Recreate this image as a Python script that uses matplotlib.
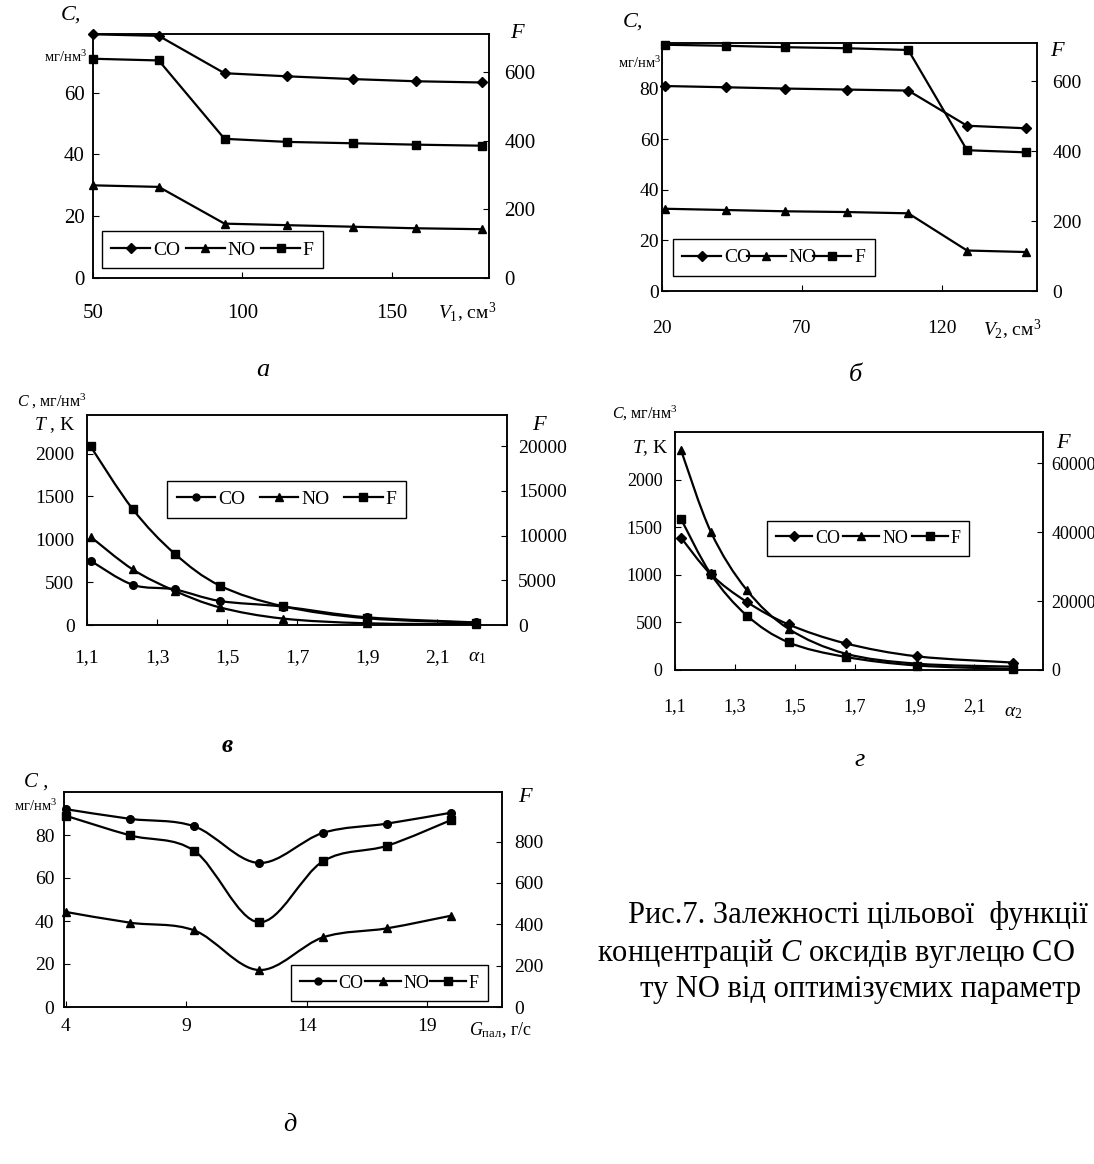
import numpy as np
import matplotlib
matplotlib.use('Agg')
import matplotlib.pyplot as plt
from matplotlib.path import Path
from matplotlib.patches import PathPatch
from matplotlib.lines import Line2D

plt.rcParams['font.family'] = ['Liberation Serif', 'DejaVu Serif']
plt.rcParams['mathtext.fontset'] = 'custom'
plt.rcParams['mathtext.rm'] = 'Liberation Serif'
plt.rcParams['mathtext.it'] = 'Liberation Serif:italic'
plt.rcParams['mathtext.bf'] = 'Liberation Serif:bold'

# ---------------- data ----------------
series_names = ['CO', 'NO', 'F']

# panel a
a_x = [50, 72, 94, 115, 137, 158, 180]
a_co = [78.9, 78.4, 66.3, 65.3, 64.4, 63.7, 63.3]
a_no = [30.0, 29.5, 17.6, 17.1, 16.6, 16.1, 15.8]
a_f = [638, 633, 405, 396, 392, 388, 385]
a_xticks = [50, 100, 150]
a_yticks = [0, 20, 40, 60]
a_rticks = [0, 200, 400, 600]

# panel b
b_x = [21, 43, 64, 86, 108, 129, 150]
b_co = [81, 80.5, 80, 79.6, 79.2, 65.3, 64.3]
b_no = [32.5, 32, 31.5, 31.2, 30.7, 16, 15.4]
b_f = [705, 702, 698, 695, 690, 403, 397]
b_xticks = [20, 70, 120]
b_yticks = [0, 20, 40, 60, 80]
b_rticks = [0, 200, 400, 600]

# panel c (alpha1)
c_x = [1.11, 1.23, 1.35, 1.48, 1.66, 1.9, 2.21]
c_co = [750, 470, 415, 280, 215, 90, 30]
c_no = [1030, 650, 400, 205, 75, 20, 10]
c_f = [20000, 13000, 8000, 4400, 2100, 750, 250]
c_xticks = [1.1, 1.3, 1.5, 1.7, 1.9, 2.1]
c_xlabels = ['1,1', '1,3', '1,5', '1,7', '1,9', '2,1']
c_yticks = [0, 500, 1000, 1500, 2000]
c_rticks = [0, 5000, 10000, 15000, 20000]

# panel d (alpha2)
d_x = [1.12, 1.22, 1.34, 1.48, 1.67, 1.91, 2.23]
d_co = [1390, 1005, 715, 478, 280, 143, 78]
d_no = [2310, 1450, 840, 432, 172, 66, 35]
d_f = [43800, 27800, 15800, 8000, 3800, 1300, 300]
d_xticks = [1.1, 1.3, 1.5, 1.7, 1.9, 2.1]
d_xlabels = ['1,1', '1,3', '1,5', '1,7', '1,9', '2,1']
d_yticks = [0, 500, 1000, 1500, 2000]
d_rticks = [0, 20000, 40000, 60000]

# panel e (G)
e_x = [4, 6.67, 9.33, 12, 14.67, 17.33, 20]
e_co = [92, 87.5, 84, 67, 81, 85.3, 90.4]
e_no = [44.2, 39.2, 35.6, 17.2, 32.4, 36.6, 42.5]
e_f = [925, 830, 755, 410, 705, 780, 905]
e_xticks = [4, 9, 14, 19]
e_yticks = [0, 20, 40, 60, 80]
e_rticks = [0, 200, 400, 600, 800]

# ---------------- figure ----------------
W, H = 1094, 1164
fig = plt.figure(figsize=(W / 100, H / 100), dpi=100)


def px_rect(x0, y0, x1, y1):
    return [x0 / W, 1 - y1 / H, (x1 - x0) / W, (y1 - y0) / H]


def ftext(x, y, s, **kw):
    kw.setdefault('ha', 'center')
    kw.setdefault('va', 'center')
    fig.text(x / W, 1 - y / H, s, **kw)


def smooth_path(x, y):
    x = np.asarray(x, float)
    y = np.asarray(y, float)
    n = len(x)
    verts = [(x[0], y[0])]
    codes = [Path.MOVETO]
    for i in range(n - 1):
        p0 = np.array([x[max(i - 1, 0)], y[max(i - 1, 0)]])
        p1 = np.array([x[i], y[i]])
        p2 = np.array([x[i + 1], y[i + 1]])
        p3 = np.array([x[min(i + 2, n - 1)], y[min(i + 2, n - 1)]])
        c1 = p1 + (p2 - p0) / 6.0
        c2 = p2 - (p3 - p1) / 6.0
        verts += [tuple(c1), tuple(c2), tuple(p2)]
        codes += [Path.CURVE4] * 3
    return Path(verts, codes)


LW = 1.6


def draw_series(ax, x, y, marker, ms, smooth):
    if smooth:
        ax.add_patch(PathPatch(smooth_path(x, y), fill=False, lw=LW,
                               edgecolor='black', clip_on=True))
        ax.plot(x, y, ls='none', marker=marker, ms=ms, color='black', clip_on=False)
    else:
        ax.plot(x, y, ls='-', lw=LW, marker=marker, ms=ms, color='black', clip_on=False)


def panel(rect, x, co, no, f, xlim, yl, yr, xticks, xlabels, yticks, rticks,
          co_marker, smooth, leg, fs, xpad, lpad, rpad, legfs):
    ax = fig.add_axes(rect)
    ax2 = ax.twinx()
    ax.set_zorder(ax2.get_zorder() - 1)
    ax.patch.set_visible(False)
    draw_series(ax, x, co, co_marker, 5.5 if co_marker == 'o' else 5, smooth)
    draw_series(ax, x, no, '^', 6, smooth)
    draw_series(ax2, x, f, 's', 6, smooth)
    ax.set_xlim(*xlim)
    ax.set_ylim(*yl)
    ax2.set_ylim(*yr)
    ax.set_xticks(xticks)
    ax.set_xticklabels(xlabels, fontsize=fs)
    ax.set_yticks(yticks)
    ax.set_yticklabels([str(v) for v in yticks], fontsize=fs)
    ax2.set_yticks(rticks)
    ax2.set_yticklabels([str(v) for v in rticks], fontsize=fs)
    ax.tick_params(axis='x', direction='in', length=4, pad=xpad, top=False)
    ax.tick_params(axis='y', direction='in', length=4, pad=lpad)
    ax2.tick_params(axis='y', direction='in', length=4, pad=rpad)
    for a in (ax, ax2):
        for s in a.spines.values():
            s.set_linewidth(1.1)
    handles = [Line2D([], [], color='black', lw=LW, marker=co_marker, ms=5),
               Line2D([], [], color='black', lw=LW, marker='^', ms=6),
               Line2D([], [], color='black', lw=LW, marker='s', ms=6)]
    lg = ax2.legend(handles, series_names, loc='lower left', bbox_to_anchor=leg,
                    mode='expand', ncol=3, fontsize=legfs, frameon=True,
                    fancybox=False, edgecolor='black', framealpha=1,
                    handlelength=2.0, handletextpad=0.15, columnspacing=0.8,
                    borderpad=0.5, borderaxespad=0)
    lg.get_frame().set_linewidth(1.0)
    return ax, ax2


# panel a
panel(px_rect(93, 34, 489, 278), a_x, a_co, a_no, a_f, (50, 182.5), (0, 79), (0, 710),
      a_xticks, [str(v) for v in a_xticks], a_yticks, a_rticks, 'D', False,
      (0.022, 0.04, 0.56, 0.16), 15, 19, 6, 11, 14)
# panel b
panel(px_rect(662, 43, 1037, 291), b_x, b_co, b_no, b_f, (20, 154), (0, 98), (0, 710),
      b_xticks, [str(v) for v in b_xticks], b_yticks, b_rticks, 'D', False,
      (0.028, 0.06, 0.54, 0.155), 14, 21, 2, 11, 14)
# panel c
panel(px_rect(87, 415, 507, 625), c_x, c_co, c_no, c_f, (1.1, 2.3), (0, 2450), (0, 23500),
      c_xticks, c_xlabels, c_yticks, c_rticks, 'o', True,
      (0.19, 0.51, 0.57, 0.18), 14, 17, 9, 8, 14)
# panel d
panel(px_rect(675, 432, 1043, 670), d_x, d_co, d_no, d_f, (1.1, 2.33), (0, 2500), (0, 69000),
      d_xticks, d_xlabels, d_yticks, d_rticks, 'D', True,
      (0.25, 0.48, 0.55, 0.17), 13, 20, 9, 6, 13)
# panel e
panel(px_rect(64, 792, 502, 1007), e_x, e_co, e_no, e_f, (3.92, 22.1), (0, 100), (0, 1040),
      e_xticks, [str(v) for v in e_xticks], e_yticks, e_rticks, 'o', True,
      (0.518, 0.03, 0.45, 0.155), 14, 8, 7, 9, 13)

# ---------------- axis texts ----------------
it = dict(style='italic')
# a
ftext(71, 15, 'C,', fontsize=16, **it)
ftext(66, 57, 'мг/нм$^3$', fontsize=10.5)
ftext(517, 33, 'F', fontsize=16, **it)
ftext(467, 313, '$V_1$, см$^3$', fontsize=14)
# b
ftext(633, 22, 'C,', fontsize=16, **it)
ftext(640, 63, 'мг/нм$^3$', fontsize=10.5)
ftext(1057, 52, 'F', fontsize=16, **it)
ftext(1012, 330, '$V_2$, см$^3$', fontsize=14)
# c
ftext(52, 401, '$C$ , мг/нм$^3$', fontsize=11.5)
ftext(55, 425, '$T$ , K', fontsize=14)
ftext(539, 425, 'F', fontsize=16, **it)
ftext(477, 658, r'$\alpha_1$', fontsize=14)
# d
ftext(645, 413, '$C$, мг/нм$^3$', fontsize=11.5)
ftext(650, 448, '$T$, K', fontsize=14)
ftext(1063, 443, 'F', fontsize=16, **it)
ftext(1013, 712, r'$\alpha_2$', fontsize=14)
# e
ftext(36, 782, 'C ,', fontsize=15, **it)
ftext(36, 806, 'мг/нм$^3$', fontsize=10.5)
ftext(525, 797, 'F', fontsize=16, **it)
ftext(500, 1030, r'$G_{\mathrm{пал}}$, г/с', fontsize=13)

# panel letters
ftext(263, 370, 'а', fontsize=19, **it)
ftext(855, 375, 'б', fontsize=19, **it)
ftext(227, 745, 'в', fontsize=18, style='italic', weight='bold')
ftext(860, 760, 'г', fontsize=19, **it)
ftext(290, 1125, 'д', fontsize=19, **it)

# caption (as far as it is visible in the reference)
ftext(628, 916, 'Рис.7. Залежності цільової  функції', fontsize=22, ha='left')
ftext(597, 953, 'концентрацій $C$ оксидів вуглецю CO', fontsize=22, ha='left')
ftext(640, 989, 'ту NO від оптимізуємих параметр', fontsize=22, ha='left')

fig.savefig('out.png', dpi=100)
